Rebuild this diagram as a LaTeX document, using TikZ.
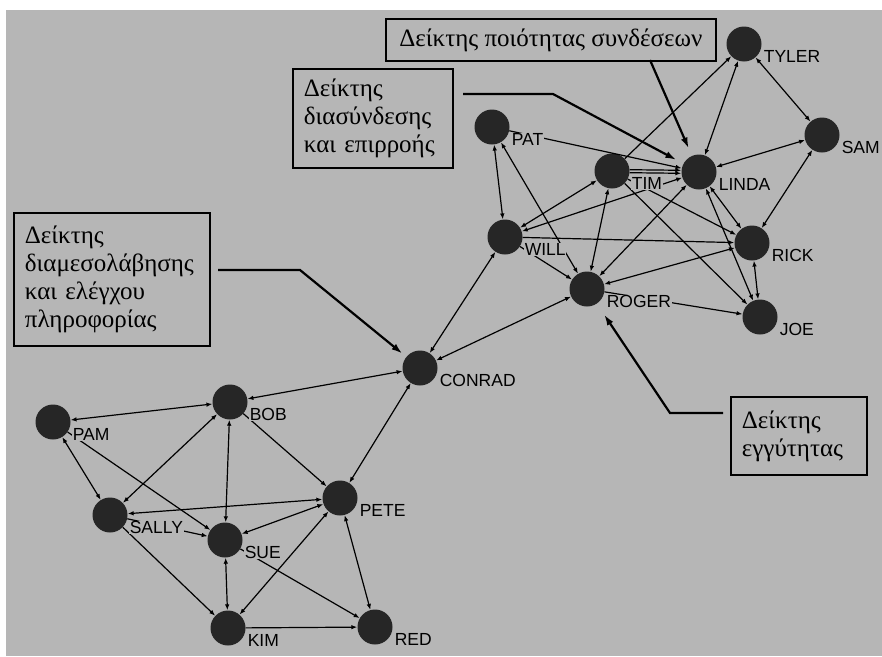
\documentclass[tikz,border=0pt]{standalone}
\usepackage{fontspec}
\setmainfont{Liberation Serif}
\newfontfamily\labfont{Liberation Sans}
\usetikzlibrary{arrows.meta,calc}
\definecolor{bg}{RGB}{182,182,182}
\definecolor{nodefill}{RGB}{38,38,38}
\begin{document}
\begin{tikzpicture}[x=1pt,y=-1pt,
  pt/.style={circle,fill=nodefill,minimum size=35pt,inner sep=0pt},
  lab/.style={anchor=west,fill=bg,inner sep=0.6pt,font=\labfont\fontsize{17.5}{18}\selectfont},
  ed/.style={line width=1.2pt,-{Latex[length=6pt,width=4.5pt]}},
  bi/.style={line width=1.2pt,{Latex[length=6pt,width=4.5pt]}-{Latex[length=6pt,width=4.5pt]}},
  box/.style={draw,line width=1.8pt,fill=bg,anchor=north west,inner xsep=11pt,inner ysep=0pt,font=\fontsize{25}{28}\selectfont},
  annot/.style={line width=2.2pt,-{Latex[length=11pt,width=7pt]}}
]
\useasboundingbox (0,0) rectangle (882,656);
\fill[bg] (6,10) rectangle (882,656);

% nodes
\node[pt] (tyler)  at (744,44)  {};
\node[pt] (sam)    at (822,135) {};
\node[pt] (pat)    at (492,127) {};
\node[pt] (tim)    at (612,171) {};
\node[pt] (linda)  at (699,172) {};
\node[pt] (will)   at (505,237) {};
\node[pt] (rick)   at (752,243) {};
\node[pt] (roger)  at (587,289) {};
\node[pt] (joe)    at (760,317) {};
\node[pt] (conrad) at (420,368) {};
\node[pt] (bob)    at (230,402) {};
\node[pt] (pam)    at (53,422)  {};
\node[pt] (pete)   at (340,498) {};
\node[pt] (sally)  at (110,515) {};
\node[pt] (sue)    at (225,540) {};
\node[pt] (kim)    at (228,628) {};
\node[pt] (red)    at (375,627) {};

% bottom cluster edges
\draw[bi] (pam) -- (bob);
\draw[bi] (bob) -- (conrad);
\draw[bi] (pam) -- (sally);
\draw[ed] (pam) -- (sue);
\draw[bi] (bob) -- (sally);
\draw[bi] (bob) -- (sue);
\draw[ed] (bob) -- (pete);
\draw[bi] (conrad) -- (pete);
\draw[bi] (sally) -- (pete);
\draw[ed] (sally) -- (sue);
\draw[bi] (pete) -- (sue);
\draw[ed] (sally) -- (kim);
\draw[bi] (sue) -- (kim);
\draw[bi] (kim) -- (pete);
\draw[ed] (sue) -- (red);
\draw[bi] (pete) -- (red);
\draw[ed] (kim) -- (red);
% bridge edges
\draw[bi] (will) -- (conrad);
\draw[bi] (roger) -- (conrad);
% top cluster edges
\draw[ed] (pat) -- (linda);
\draw[ed] (tim) -- (tyler);
\draw[bi] (linda) -- (tyler);
\draw[bi] (tyler) -- (sam);
\draw[bi] (linda) -- (sam);
\draw[ed,transform canvas={yshift=1.5pt}] (tim) -- (linda);
\draw[ed,transform canvas={yshift=-1.5pt}] (tim) -- (linda);
\draw[bi] (will) -- (linda);
\draw[bi] (will) -- (tim);
\draw[bi] (pat) -- (will);
\draw[bi] (pat) -- (roger);
\draw[ed] (will) -- (rick);
\draw[ed] (will) -- (roger);
\draw[bi] (tim) -- (roger);
\draw[bi] (linda) -- (roger);
\draw[bi] (rick) -- (roger);
\draw[ed] (roger) -- (joe);
\draw[ed] (tim) -- (rick);
\draw[ed] (tim) -- (joe);
\draw[bi] (linda) -- (rick);
\draw[bi] (linda) -- (joe);
\draw[bi] (rick) -- (joe);
\draw[bi] (sam) -- (rick);

% labels
\node[lab] (tylerL)  at ($(tyler)+(19,12.5)$)  {TYLER};
\node[lab] (samL)    at ($(sam)+(19,12.5)$)    {SAM};
\node[lab] (patL)    at ($(pat)+(19,12.5)$)    {PAT};
\node[lab] (timL)    at ($(tim)+(19,12.5)$)    {TIM};
\node[lab] (lindaL)  at ($(linda)+(19,12.5)$)  {LINDA};
\node[lab] (willL)   at ($(will)+(19,12.5)$)   {WILL};
\node[lab] (rickL)   at ($(rick)+(19,12.5)$)   {RICK};
\node[lab] (rogerL)  at ($(roger)+(19,12.5)$)  {ROGER};
\node[lab] (joeL)    at ($(joe)+(19,12.5)$)    {JOE};
\node[lab] (conradL) at ($(conrad)+(19,12.5)$) {CONRAD};
\node[lab] (bobL)    at ($(bob)+(19,12.5)$)    {BOB};
\node[lab] (pamL)    at ($(pam)+(19,12.5)$)    {PAM};
\node[lab] (peteL)   at ($(pete)+(19,12.5)$)   {PETE};
\node[lab] (sallyL)  at ($(sally)+(19,12.5)$)  {SALLY};
\node[lab] (sueL)    at ($(sue)+(19,12.5)$)    {SUE};
\node[lab] (kimL)    at ($(kim)+(19,12.5)$)    {KIM};
\node[lab] (redL)    at ($(red)+(19,12.5)$)    {RED};

% annotation boxes
\node[box, minimum width=330pt, minimum height=42pt] (b1) at (385,18) {Δείκτης ποιότητας συνδέσεων};
\node[box, text width=138pt, minimum height=99pt, align=left] (b2) at (292,68) {Δείκτης\\διασύνδεσης\\και επιρροής};
\node[box, text width=174pt, minimum height=133pt, align=left] (b3) at (13,212) {Δείκτης\\διαμεσολάβησης\\και ελέγχου\\πληροφορίας};
\node[box, text width=114pt, minimum height=78pt, align=left] (b4) at (730,396) {Δείκτης\\εγγύτητας};

% annotation arrows
\coordinate (c1) at (650,60);
\draw[annot,shorten >=8pt] (c1) -- (linda);
\coordinate (c2) at (463,94);
\coordinate (k2) at (553,94);
\draw[annot,shorten >=8pt] (c2) -- (k2) -- (linda);
\coordinate (c3) at (218,270);
\coordinate (k3) at (300,270);
\draw[annot,shorten >=5pt] (c3) -- (k3) -- (conrad);
\coordinate (c4) at (723,413);
\coordinate (k4) at (670,413);
\draw[annot,shorten >=13pt] (c4) -- (k4) -- (roger);
\end{tikzpicture}
\end{document}
